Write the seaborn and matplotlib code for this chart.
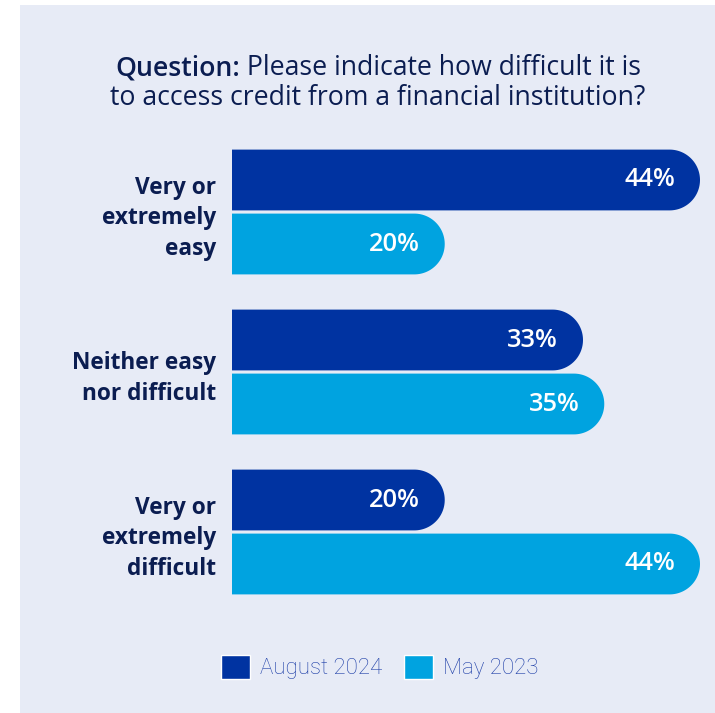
import matplotlib
matplotlib.use("Agg")
import matplotlib.pyplot as plt
import numpy as np
import pandas as pd
import seaborn as sns
from matplotlib.path import Path
from matplotlib.patches import PathPatch, Rectangle

# Survey answers and shares (%) per survey wave
categories = ["Very or\nextremely\neasy", "Neither easy\nnor difficult", "Very or\nextremely\ndifficult"]
periods = ["August 2024", "May 2023"]
aug_2024 = [44, 33, 20]
may_2023 = [20, 35, 44]

df = pd.DataFrame({
    "category": categories * 2,
    "period": [periods[0]] * 3 + [periods[1]] * 3,
    "share": aug_2024 + may_2023,
})

BG = "#E7EBF6"
NAVY = "#0B1D51"
LEGEND_TXT = "#1E3FA8"
palette = {"August 2024": "#0033A1", "May 2023": "#00A3E0"}

sns.set_theme(style="white")
plt.rcParams["font.family"] = ["Open Sans", "DejaVu Sans"]

W, H = 715, 713
fig = plt.figure(figsize=(W / 100, H / 100), dpi=100, facecolor="white")
fig.patches.append(Rectangle((20 / W, 0), (W - 20) / W, (H - 5) / H,
                             transform=fig.transFigure, facecolor=BG,
                             edgecolor="none", zorder=-10))

ax = fig.add_axes([232 / W, 1 - 612 / H, 468 / W, 480 / H])
ax.patch.set_alpha(0)

sns.barplot(data=df, y="category", x="share", hue="period", order=categories,
            hue_order=periods, palette=palette, orient="h", width=0.8,
            gap=0.05, saturation=1, ax=ax)

ax.set_xlim(0, 44)
ax.set_ylim(2.5, -0.5)
for s in ax.spines.values():
    s.set_visible(False)
ax.set_xticks([])
ax.set_xlabel("")
ax.set_ylabel("")
ax.tick_params(axis="y", length=0, pad=11.5)
for lbl in ax.get_yticklabels():
    lbl.set_fontsize(16.3)
    lbl.set_fontweight("bold")
    lbl.set_color(NAVY)
    lbl.set_linespacing(1.38)

# Replace the square bar ends with rounded caps (circular in screen space)
fig.canvas.draw()
p0 = ax.transData.transform((0, 0))
p1 = ax.transData.transform((1, 1))
sx = abs(p1[0] - p0[0])
sy = abs(p1[1] - p0[1])

bars = [p for p in ax.patches if isinstance(p, Rectangle) and p.get_width() > 0]
for bar in bars:
    x0, y0 = bar.get_x(), bar.get_y()
    w, h = bar.get_width(), bar.get_height()
    ry = h / 2
    rx = ry * sy / sx
    cx, cy = x0 + w - rx, y0 + ry
    t = np.linspace(-np.pi / 2, np.pi / 2, 60)
    arc = np.column_stack([cx + rx * np.cos(t), cy + ry * np.sin(t)])
    verts = np.vstack([[x0, y0], arc, [x0, y0 + h], [x0, y0]])
    codes = [Path.MOVETO] + [Path.LINETO] * (len(verts) - 2) + [Path.CLOSEPOLY]
    ax.add_patch(PathPatch(Path(verts, codes), facecolor=bar.get_facecolor(),
                           edgecolor="none", zorder=bar.get_zorder()))
    bar.set_visible(False)
    ax.annotate(f"{w:.0f}%", xy=(x0 + w, cy), xytext=(-25, 0),
                textcoords="offset pixels", ha="right", va="center",
                color="white", fontsize=18.3, fontweight="semibold")

# Title with a bold lead-in
renderer = fig.canvas.get_renderer()
cx_title = 378 / W
lead = fig.text(0, 1 - 68 / H, "Question:", fontsize=19.2, fontweight="semibold",
                color=NAVY, ha="left", va="center")
rest = fig.text(0, 1 - 68 / H, " Please indicate how difficult it is",
                fontsize=19.2, color=NAVY, ha="left", va="center")
wl = lead.get_window_extent(renderer).width / W
wr = rest.get_window_extent(renderer).width / W
start = cx_title - (wl + wr) / 2
lead.set_x(start)
rest.set_x(start + wl)
fig.text(cx_title, 1 - 98 / H, "to access credit from a financial institution?",
         fontsize=19.2, color=NAVY, ha="center", va="center")

sns.move_legend(ax, "center", bbox_to_anchor=(380 / W, 1 - 667 / H),
                bbox_transform=fig.transFigure, ncol=2, frameon=False,
                title=None, handlelength=1.3, handleheight=1.3,
                handletextpad=0.45, columnspacing=1.0, labelcolor=LEGEND_TXT,
                prop={"family": "Roboto", "size": 16, "weight": "light"})

fig.savefig("out.png", dpi=100, facecolor="white")
